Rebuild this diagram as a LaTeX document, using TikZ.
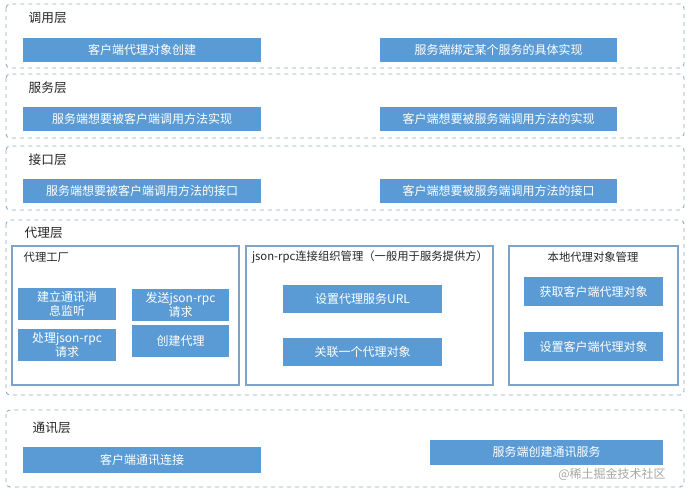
\documentclass[tikz,border=0pt]{standalone}
\usepackage{fontspec}
\setmainfont{Noto Sans CJK SC}
\begin{document}
\begin{tikzpicture}[x=0.75pt,y=-0.75pt,
  layer/.style={draw=black!45!blue!40!gray, dashed, rounded corners=3pt, line width=0.7pt},
  group/.style={draw=black!30!blue!30!gray!90, line width=0.8pt},
  bx/.style={fill=blue!35!cyan!45!black!70!white, fill=bluebox, text=white, font=\fontsize{9}{10.5}\selectfont, align=center},
  ttl/.style={font=\fontsize{9.5}{11}\selectfont, text=black!85, anchor=west},
  gttl/.style={font=\fontsize{8.5}{10}\selectfont, text=black!85}]
\definecolor{bluebox}{HTML}{5B9BD5}
\useasboundingbox (0,0) rectangle (691,495);
\tikzset{layer/.append style={draw=dash}}
\definecolor{dash}{HTML}{8FA9C6}
\definecolor{grp}{HTML}{7FA3C8}
\tikzset{group/.style={draw=grp, line width=0.8pt}}
\newcommand{\bxr}[6]{\node[bx, minimum width={(#4-#2)*0.75pt}, minimum height={(#5-#3)*0.75pt}, inner sep=1pt] (#1) at ({(#2+#4)/2},{(#3+#5)/2}) {#6};}
% layers
\draw[layer] (6,4) rectangle (684,68);
\node[ttl] (t1) at (24,18) {调用层};
\bxr{a1}{23}{38}{261}{62}{客户端代理对象创建}
\bxr{a2}{380}{38}{617}{62}{服务端绑定某个服务的具体实现}
\draw[layer] (6,74) rectangle (684,138);
\node[ttl] (t2) at (24,88) {服务层};
\bxr{b1}{23}{107}{261}{131}{服务端想要被客户端调用方法实现}
\bxr{b2}{380}{107}{617}{131}{客户端想要被服务端调用方法的实现}
\draw[layer] (6,146) rectangle (684,210);
\node[ttl] (t3) at (24,160) {接口层};
\bxr{c1}{23}{179}{261}{203}{服务端想要被客户端调用方法的接口}
\bxr{c2}{380}{179}{617}{203}{客户端想要被服务端调用方法的接口}
\draw[layer] (6,220) rectangle (684,395);
\node[ttl] (t4) at (20,233) {代理层};
\draw[group] (12,246) rectangle (239,385);
\node[gttl, anchor=west] (g1) at (19,257) {代理工厂};
\bxr{d1}{18}{288}{116}{320}{建立通讯消\\息监听}
\bxr{d2}{132}{289}{229}{321}{发送json-rpc\\请求}
\bxr{d3}{18}{329}{116}{361}{处理json-rpc\\请求}
\bxr{d4}{132}{325}{229}{357}{创建代理}
\draw[group] (246,246) rectangle (493,385);
\node[gttl] (g2) at (370,257) {json-rpc连接组织管理（一般用于服务提供方）};
\bxr{e1}{283}{285}{442}{313}{设置代理服务URL}
\bxr{e2}{283}{338}{442}{366}{关联一个代理对象}
\draw[group] (509,246) rectangle (678,385);
\node[gttl] (g3) at (593,257) {本地代理对象管理};
\bxr{f1}{524}{277}{663}{306}{获取客户端代理对象}
\bxr{f2}{524}{332}{663}{361}{设置客户端代理对象}
\draw[layer] (6,410) rectangle (684,487);
\node[ttl] (t5) at (28,428) {通讯层};
\bxr{h1}{23}{447}{261}{473}{客户端通讯连接}
\bxr{h2}{430}{440}{663}{465}{服务端创建通讯服务}
\node[font=\fontsize{9}{10}\selectfont, text=black!35] (wm) at (612,474) {@稀土掘金技术社区};
\end{tikzpicture}
\end{document}
